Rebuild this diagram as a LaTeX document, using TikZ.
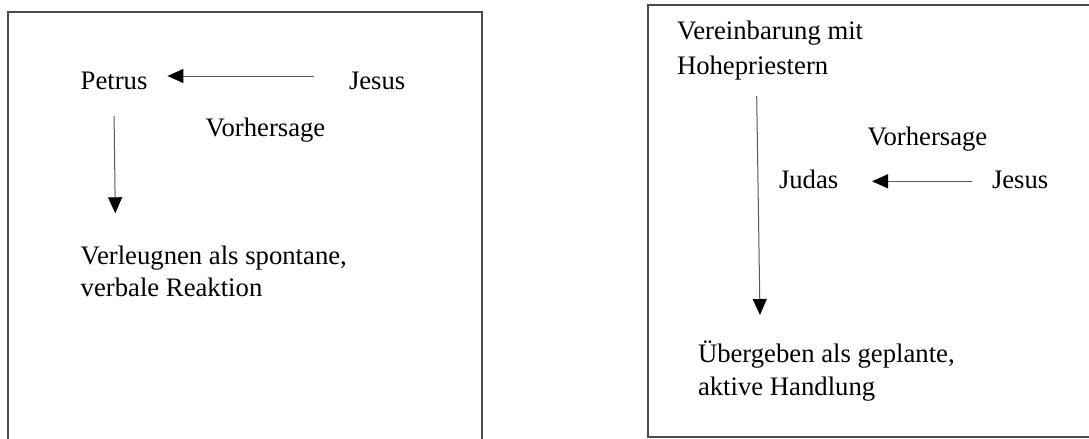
\documentclass[tikz,border=0pt]{standalone}
\usepackage{fontspec}
\setmainfont{Liberation Serif}
\usetikzlibrary{arrows.meta}
\begin{document}
\begin{tikzpicture}[x=0.5pt,y=-0.5pt,
  lbl/.style={inner sep=0pt, outer sep=0pt, anchor=base west, font=\fontsize{13.35pt}{16.4pt}\selectfont},
  frame/.style={draw=black!70, line width=0.75pt},
  arr/.style={draw=black!65, line width=0.5pt, -{Triangle[length=8pt,width=7pt,color=black]}}]
\useasboundingbox (0,0) rectangle (1089,439);
\clip (0,0) rectangle (1089,439);
\draw[frame] (8,12) rectangle (482,470);
\draw[frame] (648,5) rectangle (1110,437);
% left panel
\node[lbl] (petrus) at (80.7,90) {Petrus};
\node[lbl] (jesusL) at (349,90) {Jesus};
\node[lbl] (vorhL) at (205.7,136) {Vorhersage};
\node[lbl] (verl) at (80.7,264) {\begin{tabular}[t]{@{}l@{}}Verleugnen als spontane,\\ verbale Reaktion\end{tabular}};
\draw[arr] ([xshift=-17.5pt,yshift=7pt]jesusL.base west) -- ([xshift=10pt,yshift=7pt]petrus.base east);
\draw[arr] ([yshift=-13pt]petrus.base) -- ([xshift=17.3pt,yshift=25.35pt]verl.base west);
% right panel
\node[lbl] (verein) at (677,39.3) {\begin{tabular}[t]{@{}l@{}}Vereinbarung mit\\[1pt] Hohepriestern\end{tabular}};
\node[lbl] (vorhR) at (867.7,145.7) {Vorhersage};
\node[lbl] (judas) at (779,188.3) {Judas};
\node[lbl] (jesusR) at (992,188.3) {Jesus};
\node[lbl] (ueber) at (698,362.3) {\begin{tabular}[t]{@{}l@{}}Übergeben als geplante,\\ aktive Handlung\end{tabular}};
\draw[arr] ([xshift=-10pt,yshift=3.5pt]jesusR.base west) -- ([xshift=16.85pt,yshift=3.5pt]judas.base east);
\draw[arr] ([xshift=39.85pt,yshift=-28.35pt]verein.base west) -- ([xshift=31pt,yshift=23.65pt]ueber.base west);
\end{tikzpicture}
\end{document}
